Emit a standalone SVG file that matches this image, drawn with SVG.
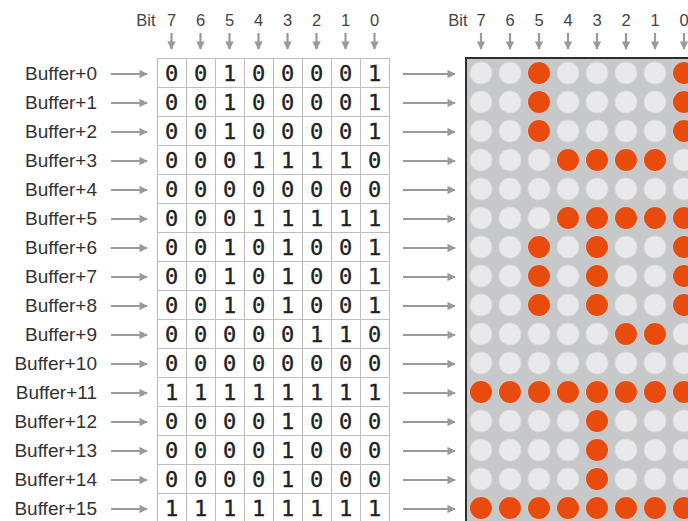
<svg xmlns="http://www.w3.org/2000/svg" width="688" height="521" viewBox="0 0 688 521">
<style>
.lbl{font-family:"Liberation Sans",Arial,sans-serif;font-size:19px;fill:#333;text-anchor:end}
.hdr{font-family:"Liberation Sans",Arial,sans-serif;font-size:16.5px;fill:#444;text-anchor:middle}
.bits{font-family:"DejaVu Sans Mono","Liberation Mono",monospace;font-size:22px;fill:#222;stroke:#222;stroke-width:0.35;text-anchor:middle}
.arr{stroke:#9a9a9a;stroke-width:2.2;fill:none;marker-end:url(#ah)}
.grid{stroke:#bdbdbd;stroke-width:1;fill:none}
.on{fill:#e94b0c}
</style>
<defs>
<marker id="ah" viewBox="0 0 10 10" refX="9" refY="5" markerWidth="3.8" markerHeight="3.8" orient="auto" markerUnits="strokeWidth">
<path d="M0,0 L10,5 L0,10 Z" fill="#9a9a9a"/>
</marker>
<pattern id="leds" patternUnits="userSpaceOnUse" x="466.5" y="58.5" width="29" height="29">
<rect width="29" height="29" fill="#c7c8ca"/>
<circle cx="14.5" cy="14.5" r="11" fill="#e9e9eb"/>
</pattern>
</defs>

<g id="header-left">
<text class="hdr" x="146" y="26">Bit</text>
<text class="hdr" x="171.5 200.5 229.5 258.5 287.5 316.5 345.5 374.5" y="26">76543210</text>
</g>
<g id="header-right">
<text class="hdr" x="458" y="26">Bit</text>
<text class="hdr" x="481 510 539 568 597 626 655 684" y="26">76543210</text>
</g>

<g id="bit-grid">
<rect class="grid" x="157.5" y="58.5" width="232" height="470"/>
<path class="grid" d="M186.5,58.5V521M215.5,58.5V521M244.5,58.5V521M273.5,58.5V521M302.5,58.5V521M331.5,58.5V521M360.5,58.5V521
M157.5,87.5H389.5M157.5,116.5H389.5M157.5,145.5H389.5M157.5,174.5H389.5M157.5,203.5H389.5M157.5,232.5H389.5M157.5,261.5H389.5M157.5,290.5H389.5M157.5,319.5H389.5M157.5,348.5H389.5M157.5,377.5H389.5M157.5,406.5H389.5M157.5,435.5H389.5M157.5,464.5H389.5M157.5,493.5H389.5"/>
</g>

<g id="rows">
<g id="row-0"><text class="lbl" x="97" y="80">Buffer+0</text><text class="bits" x="171.5 200.5 229.5 258.5 287.5 316.5 345.5 374.5" y="81">00100001</text></g>
<g id="row-1"><text class="lbl" x="97" y="109">Buffer+1</text><text class="bits" x="171.5 200.5 229.5 258.5 287.5 316.5 345.5 374.5" y="110">00100001</text></g>
<g id="row-2"><text class="lbl" x="97" y="138">Buffer+2</text><text class="bits" x="171.5 200.5 229.5 258.5 287.5 316.5 345.5 374.5" y="139">00100001</text></g>
<g id="row-3"><text class="lbl" x="97" y="167">Buffer+3</text><text class="bits" x="171.5 200.5 229.5 258.5 287.5 316.5 345.5 374.5" y="168">00011110</text></g>
<g id="row-4"><text class="lbl" x="97" y="196">Buffer+4</text><text class="bits" x="171.5 200.5 229.5 258.5 287.5 316.5 345.5 374.5" y="197">00000000</text></g>
<g id="row-5"><text class="lbl" x="97" y="225">Buffer+5</text><text class="bits" x="171.5 200.5 229.5 258.5 287.5 316.5 345.5 374.5" y="226">00011111</text></g>
<g id="row-6"><text class="lbl" x="97" y="254">Buffer+6</text><text class="bits" x="171.5 200.5 229.5 258.5 287.5 316.5 345.5 374.5" y="255">00101001</text></g>
<g id="row-7"><text class="lbl" x="97" y="283">Buffer+7</text><text class="bits" x="171.5 200.5 229.5 258.5 287.5 316.5 345.5 374.5" y="284">00101001</text></g>
<g id="row-8"><text class="lbl" x="97" y="312">Buffer+8</text><text class="bits" x="171.5 200.5 229.5 258.5 287.5 316.5 345.5 374.5" y="313">00101001</text></g>
<g id="row-9"><text class="lbl" x="97" y="341">Buffer+9</text><text class="bits" x="171.5 200.5 229.5 258.5 287.5 316.5 345.5 374.5" y="342">00000110</text></g>
<g id="row-10"><text class="lbl" x="97" y="370">Buffer+10</text><text class="bits" x="171.5 200.5 229.5 258.5 287.5 316.5 345.5 374.5" y="371">00000000</text></g>
<g id="row-11"><text class="lbl" x="97" y="399">Buffer+11</text><text class="bits" x="171.5 200.5 229.5 258.5 287.5 316.5 345.5 374.5" y="400">11111111</text></g>
<g id="row-12"><text class="lbl" x="97" y="428">Buffer+12</text><text class="bits" x="171.5 200.5 229.5 258.5 287.5 316.5 345.5 374.5" y="429">00001000</text></g>
<g id="row-13"><text class="lbl" x="97" y="457">Buffer+13</text><text class="bits" x="171.5 200.5 229.5 258.5 287.5 316.5 345.5 374.5" y="458">00001000</text></g>
<g id="row-14"><text class="lbl" x="97" y="486">Buffer+14</text><text class="bits" x="171.5 200.5 229.5 258.5 287.5 316.5 345.5 374.5" y="487">00001000</text></g>
<g id="row-15"><text class="lbl" x="97" y="515">Buffer+15</text><text class="bits" x="171.5 200.5 229.5 258.5 287.5 316.5 345.5 374.5" y="516">11111111</text></g>
</g>

<g id="led-matrix">
<rect x="466" y="58" width="240" height="480" fill="url(#leds)" stroke="#2e2e2e" stroke-width="2"/>
<g class="on">
<circle cx="539" cy="73" r="11"/><circle cx="684" cy="73" r="11"/>
<circle cx="539" cy="102" r="11"/><circle cx="684" cy="102" r="11"/>
<circle cx="539" cy="131" r="11"/><circle cx="684" cy="131" r="11"/>
<circle cx="568" cy="160" r="11"/><circle cx="597" cy="160" r="11"/><circle cx="626" cy="160" r="11"/><circle cx="655" cy="160" r="11"/>
<circle cx="568" cy="218" r="11"/><circle cx="597" cy="218" r="11"/><circle cx="626" cy="218" r="11"/><circle cx="655" cy="218" r="11"/><circle cx="684" cy="218" r="11"/>
<circle cx="539" cy="247" r="11"/><circle cx="597" cy="247" r="11"/><circle cx="684" cy="247" r="11"/>
<circle cx="539" cy="276" r="11"/><circle cx="597" cy="276" r="11"/><circle cx="684" cy="276" r="11"/>
<circle cx="539" cy="305" r="11"/><circle cx="597" cy="305" r="11"/><circle cx="684" cy="305" r="11"/>
<circle cx="626" cy="334" r="11"/><circle cx="655" cy="334" r="11"/>
<circle cx="481" cy="392" r="11"/><circle cx="510" cy="392" r="11"/><circle cx="539" cy="392" r="11"/><circle cx="568" cy="392" r="11"/><circle cx="597" cy="392" r="11"/><circle cx="626" cy="392" r="11"/><circle cx="655" cy="392" r="11"/><circle cx="684" cy="392" r="11"/>
<circle cx="597" cy="421" r="11"/>
<circle cx="597" cy="450" r="11"/>
<circle cx="597" cy="479" r="11"/>
<circle cx="481" cy="508" r="11"/><circle cx="510" cy="508" r="11"/><circle cx="539" cy="508" r="11"/><circle cx="568" cy="508" r="11"/><circle cx="597" cy="508" r="11"/><circle cx="626" cy="508" r="11"/><circle cx="655" cy="508" r="11"/><circle cx="684" cy="508" r="11"/>
</g>
</g>

<g id="connectors">
<path class="arr" d="M171.5,33V49"/><path class="arr" d="M200.5,33V49"/><path class="arr" d="M229.5,33V49"/><path class="arr" d="M258.5,33V49"/><path class="arr" d="M287.5,33V49"/><path class="arr" d="M316.5,33V49"/><path class="arr" d="M345.5,33V49"/><path class="arr" d="M374.5,33V49"/>
<path class="arr" d="M481,33V49"/><path class="arr" d="M510,33V49"/><path class="arr" d="M539,33V49"/><path class="arr" d="M568,33V49"/><path class="arr" d="M597,33V49"/><path class="arr" d="M626,33V49"/><path class="arr" d="M655,33V49"/><path class="arr" d="M684,33V49"/>
<path class="arr" d="M111,74H147"/><path class="arr" d="M111,103H147"/><path class="arr" d="M111,132H147"/><path class="arr" d="M111,161H147"/><path class="arr" d="M111,190H147"/><path class="arr" d="M111,219H147"/><path class="arr" d="M111,248H147"/><path class="arr" d="M111,277H147"/><path class="arr" d="M111,306H147"/><path class="arr" d="M111,335H147"/><path class="arr" d="M111,364H147"/><path class="arr" d="M111,393H147"/><path class="arr" d="M111,422H147"/><path class="arr" d="M111,451H147"/><path class="arr" d="M111,480H147"/><path class="arr" d="M111,509H147"/>
<path class="arr" d="M403,74H455"/><path class="arr" d="M403,103H455"/><path class="arr" d="M403,132H455"/><path class="arr" d="M403,161H455"/><path class="arr" d="M403,190H455"/><path class="arr" d="M403,219H455"/><path class="arr" d="M403,248H455"/><path class="arr" d="M403,277H455"/><path class="arr" d="M403,306H455"/><path class="arr" d="M403,335H455"/><path class="arr" d="M403,364H455"/><path class="arr" d="M403,393H455"/><path class="arr" d="M403,422H455"/><path class="arr" d="M403,451H455"/><path class="arr" d="M403,480H455"/><path class="arr" d="M403,509H455"/>
</g>
</svg>
